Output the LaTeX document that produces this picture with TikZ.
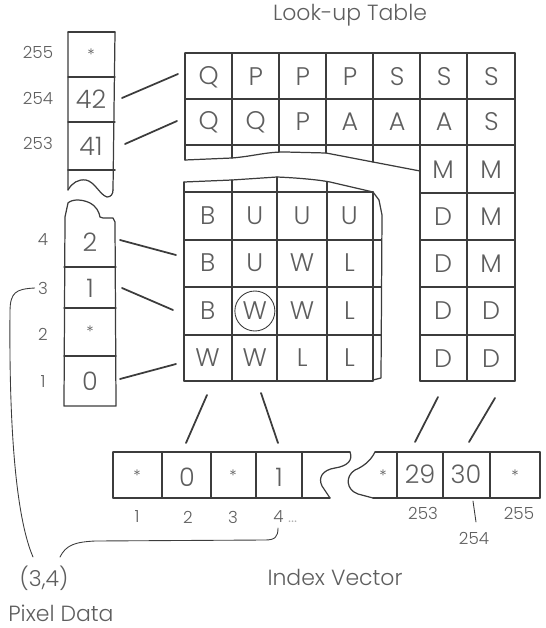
\documentclass[tikz,border=0pt]{standalone}
\usepackage{fontspec}
\setmainfont{Poppins Light}
\usetikzlibrary{calc}
\definecolor{ScanInk}{HTML}{3C3C3C}
\definecolor{ScanText}{HTML}{5E5E5E}

\begin{document}
\begin{tikzpicture}[x=0.02cm,y=-0.02cm,line cap=round,line join=round,
  grid/.style={ScanInk,line width=0.7pt},
  link/.style={ScanInk,line width=1pt},
  thin link/.style={ScanInk,line width=0.5pt},
  cell/.style={ScanText,font=\fontsize{14.5}{14}\selectfont,inner sep=0pt},
  dot/.style={ScanText,font=\fontsize{9}{9}\selectfont,inner sep=0pt},
  tag/.style={ScanText,font=\fontsize{9.5}{10}\selectfont,inner sep=0pt},
  caption/.style={ScanText,font=\fontsize{12.5}{13}\selectfont,inner sep=0pt}]
  \useasboundingbox (0,0) rectangle (546,628);

  % look-up table, top strip
  \draw[grid] (185,53) -- (515,53) (185,99) -- (515,99) (185,145) -- (515,145);
  \draw[grid] (185,53) -- (185,160) (232,53) -- (232,158) (279,53) -- (279,152)
    (326,53) -- (326,153) (373,53) -- (373,162);
  \draw[grid] (185,160) -- (232,158) .. controls (255,156) and (265,152) .. (285,152)
    -- (326,153) -- (373,162) -- (420,171);
  \draw[grid] (420,53) -- (420,381) (467,53) -- (467,381) (515,53) -- (515,381);
  \foreach \yy in {193,240,287,335,381} \draw[grid] (420,\yy) -- (515,\yy);
  \foreach \ch [count=\i] in {Q,P,P,P,S,S,S}
    \node[cell] (ta\i) at ({185+47.14*(\i-0.5)},77) {\ch};
  \foreach \ch [count=\i] in {Q,Q,P,A,A,A,S}
    \node[cell] (tb\i) at ({185+47.14*(\i-0.5)},122) {\ch};
  \foreach \ca/\cb [count=\i] in {M/M,D/M,D/M,D/D,D/D}{
    \node[cell] (rl\i) at (443,{193+47.2*(\i-1.5)}) {\ca};
    \node[cell] (rr\i) at (491,{193+47.2*(\i-1.5)}) {\cb};}

  % look-up table, middle block
  \draw[grid] (184,182) -- (232,180) -- (277,177) .. controls (300,178) and (320,180) .. (330,182) -- (373,192);
  \draw[grid] (184,182) -- (184,381) (232,180) -- (232,381) (277,177) -- (277,381)
    (327,182) -- (327,381) (373,192) -- (373,381);
  \draw[grid] (373,192) -- (379,200) -- (382,215) -- (381,378) -- (373,380);
  \draw[grid] (184,192) -- (373,192);
  \foreach \yy in {240,287,335} \draw[grid] (184,\yy) -- (381,\yy);
  \draw[grid] (184,381) -- (373,381);
  \foreach \ch [count=\i] in {B,U,U,U} \node[cell] (ma\i) at ({184+47.25*(\i-0.5)},216) {\ch};
  \foreach \ch [count=\i] in {B,U,W,L} \node[cell] (mb\i) at ({184+47.25*(\i-0.5)},263) {\ch};
  \foreach \ch [count=\i] in {B,W,W,L} \node[cell] (mc\i) at ({184+47.25*(\i-0.5)},311) {\ch};
  \foreach \ch [count=\i] in {W,W,L,L} \node[cell] (md\i) at ({184+47.25*(\i-0.5)},358) {\ch};
  \draw[thin link] (mc2) circle (20);

  % pixel data column
  \draw[grid] (68,32) -- (115,32) (68,77) -- (115,77) (68,122) -- (115,122);
  \draw[ScanInk,line width=1pt] (68,170) -- (115,170);
  \draw[grid] (68,32) -- (68,190) (115,32) -- (113,190);
  \draw[grid] (68,190) .. controls (72,183) and (78,179) .. (86,180)
    .. controls (95,182) and (100,195) .. (107,197) .. controls (111,197) and (113,194) .. (113,190);
  \draw[grid] (64,406) -- (65,217) -- (68,203) .. controls (72,199) and (82,199) .. (90,203)
    .. controls (97,207) and (99,212) .. (100,217) -- (103,218) -- (113,218) -- (115,222) -- (116,406) -- cycle;
  \foreach \yy in {267,308,356} \draw[grid] (64,\yy) -- (116,\yy);
  \node[dot] (v255) at (91,55) {*};
  \node[cell] (v254) at (91,99) {42};
  \node[cell] (v253) at (91,146) {41};
  \node[cell] (v4) at (90,242) {2};
  \node[cell] (v3) at (90,288) {1};
  \node[dot] (v2) at (90,332) {*};
  \node[cell] (v1) at (90,381) {0};
  \foreach \lab/\yy in {255/52,254/98,253/143} \node[tag] (k\lab) at (38,\yy) {\lab};
  \foreach \lab/\yy in {4/240,3/288,2/334,1/382} \node[tag] (k\lab) at (43,\yy) {\lab};

  % index vector
  \draw[grid] (113,452) -- (350,452) (113,498) -- (330,498);
  \draw[grid] (350,452) .. controls (353,460) and (348,466) .. (335,468)
    .. controls (322,470) and (318,478) .. (322,486) -- (330,498);
  \foreach \xx in {113,162,211,256,302} \draw[grid] (\xx,452) -- (\xx,498);
  \draw[grid] (375,452) -- (540,452) (373,498) -- (540,498);
  \draw[grid] (375,452) .. controls (370,462) and (362,467) .. (355,470)
    .. controls (345,476) and (346,490) .. (358,494) -- (373,498);
  \foreach \xx in {397,443,490,540} \draw[grid] (\xx,452) -- (\xx,498);
  \node[dot] (ia1) at (137,476) {*};
  \node[cell] (ia2) at (187,477) {0};
  \node[dot] (ia3) at (233,476) {*};
  \node[cell] (ia4) at (279,477) {1};
  \node[dot] (ib1) at (383,476) {*};
  \node[cell] (ib2) at (420,474) {29};
  \node[cell] (ib3) at (466,474) {30};
  \node[dot] (ib4) at (515,476) {*};
  \node[tag] (n1) at (137,517) {1};
  \node[tag] (n2) at (188,517) {2};
  \node[tag] (n3) at (233,517) {3};
  \node[tag,anchor=west] (n4) at (273,517) {4 \textcolor{ScanText!50}{...}};
  \node[tag] (n253) at (423,513) {253};
  \node[tag] (n254) at (474,538) {254};
  \node[tag] (n255) at (519,513) {255};

  % connectors
  \coordinate (c254) at (122,98);  \coordinate (t254) at (178,74);
  \coordinate (c253) at (125,144); \coordinate (t253) at (177,121);
  \coordinate (c4) at (120,240);   \coordinate (t4) at (176,255);
  \coordinate (c3) at (122,288);   \coordinate (t3) at (173,310);
  \coordinate (c1) at (120,379);   \coordinate (t1) at (176,364);
  \foreach \k in {254,253,4,3,1} \draw[link] (c\k) -- (t\k);
  \coordinate (u0) at (207,395); \coordinate (d0) at (186,443);
  \coordinate (u1) at (261,393); \coordinate (d1) at (278,443);
  \coordinate (u29) at (438,397); \coordinate (d29) at (415,442);
  \coordinate (u30) at (495,398); \coordinate (d30) at (469,442);
  \foreach \k in {0,1,29,30} \draw[link] (u\k) -- (d\k);
  \coordinate (s254) at (473,501); \coordinate (e254) at (476,522);
  \draw[thin link] (s254) -- (e254);

  % pixel (3,4)
  \node[caption] (pix) at (44,578) {(3,4)};
  \node[caption,anchor=west] (pixname) at (8,613) {Pixel Data};
  \node[caption] (ivec) at (335,577) {Index Vector};
  \node[caption] (ltab) at (350,15) {Look-up Table};
  \draw[thin link] (k3.west) ++(-3,0) .. controls (16,289) and (10,292) .. (10,312)
    .. controls (9,420) and (15,515) .. (33,557);
  \draw[thin link] (60,557) .. controls (66,545) and (75,542) .. (95,541) -- (265,540)
    .. controls (275,540) and (278,537) .. (278,528);
\end{tikzpicture}
\end{document}
